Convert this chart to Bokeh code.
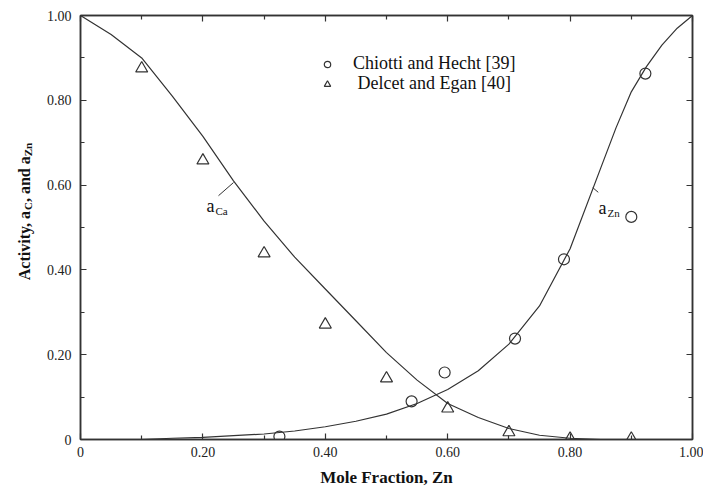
from math import pi
from bokeh.plotting import figure
from bokeh.layouts import row
from bokeh.models import (Range1d, FixedTicker, LinearAxis, Label, Legend,
                          LegendItem)
from bokeh.core.properties import value
from bokeh.embed import file_html
from bokeh.resources import INLINE

# ---------------- data ----------------
tick_values = [0, 0.2, 0.4, 0.6, 0.8, 1.0]
tick_labels = ["0", "0.20", "0.40", "0.60", "0.80", "1.00"]
minor_values = [0.1, 0.3, 0.5, 0.7, 0.9]

chiotti_x = [0.325, 0.541, 0.595, 0.71, 0.79, 0.90, 0.923]
chiotti_y = [0.007, 0.090, 0.158, 0.238, 0.425, 0.525, 0.863]

delcet_x = [0.1, 0.2, 0.3, 0.4, 0.5, 0.6, 0.7, 0.8, 0.9]
delcet_y = [0.875, 0.658, 0.439, 0.271, 0.144, 0.073, 0.017, 0.002, 0.002]

ca_x = [0, 0.05, 0.1, 0.15, 0.2, 0.25, 0.3, 0.35, 0.4, 0.45, 0.5, 0.55,
        0.6, 0.65, 0.7, 0.75, 0.8, 0.85]
ca_y = [1.0, 0.955, 0.90, 0.81, 0.715, 0.61, 0.515, 0.43, 0.355, 0.28, 0.205,
        0.14, 0.085, 0.052, 0.026, 0.01, 0.003, 0.0]

zn_x = [0.1, 0.15, 0.2, 0.25, 0.3, 0.35, 0.4, 0.45, 0.5, 0.55, 0.6, 0.65,
        0.7, 0.75, 0.8, 0.85, 0.875, 0.9, 0.925, 0.95, 0.975, 1.0]
zn_y = [0.0, 0.003, 0.005, 0.009, 0.013, 0.02, 0.03, 0.043, 0.06, 0.085,
        0.118, 0.162, 0.225, 0.315, 0.45, 0.64, 0.735, 0.82, 0.88, 0.93,
        0.97, 1.0]

ca_pointer_x = [0.2255, 0.25]
ca_pointer_y = [0.575, 0.606]
zn_pointer_x = [0.837, 0.846]
zn_pointer_y = [0.594, 0.583]

legend_labels = ["Chiotti and Hecht [39]", " Delcet and Egan [40]"]

# y axis title pieces: (text, subscript?)
ylabel_parts = [("Activity, a", False), ("C", True),
                (", and a", False), ("Zn", True)]

# ---------------- layout ----------------
W, H = 703, 489
LW = 40                        # width of the strip holding the y title
L, R, T, B = 80, 692, 15, 439  # frame in page pixels
INK = "#333333"
TXT = "#111111"
SERIF = "Liberation Serif"

# advance widths (em) of Liberation Serif Bold, for laying out the pieces
BOLD_EM = {"A": .722, "c": .444, "t": .333, "i": .278, "v": .5, "y": .5,
           ",": .25, " ": .25, "a": .5, "n": .556, "d": .556, "C": .722,
           "Z": .667}
MAIN_PX, SUB_PX = 16, 11


def text_w(s, px):
    return sum(BOLD_EM.get(ch, .5) for ch in s) * px


def px2x(px):
    return (px - L) / (R - L)


def py2y(py):
    return (B - py) / (B - T)


yr = Range1d(0, 1)

# ---- strip with the rotated y-axis title (frame aligned with the chart) ----
lf = figure(width=LW, height=H, output_backend="svg", toolbar_location=None,
            title=None, x_range=Range1d(0, LW), y_range=yr,
            x_axis_location=None, y_axis_location=None,
            min_border_left=0, min_border_right=0,
            min_border_top=T, min_border_bottom=H - B)
lf.outline_line_color = None
lf.xgrid.visible = False
lf.ygrid.visible = False
lf.background_fill_color = "white"
lf.border_fill_color = "white"

total = sum(text_w(t, SUB_PX if s else MAIN_PX) for t, s in ylabel_parts)
start = 211 + total / 2          # page y of the first letter (reads upward)
for txt, sub in ylabel_parts:
    size = SUB_PX if sub else MAIN_PX
    lf.text(x=[27 if sub else 24], y=[py2y(start)], text=[txt], angle=pi / 2,
            text_font=value(SERIF), text_font_size=value(f"{size}px"),
            text_font_style="bold", text_color=TXT,
            text_align="left", text_baseline="alphabetic")
    start -= text_w(txt, size)

# ---- main chart ----
p = figure(width=W - LW, height=H, output_backend="svg", toolbar_location=None,
           title=None, x_range=Range1d(0, 1), y_range=yr,
           min_border_left=L - LW, min_border_right=W - R,
           min_border_top=T, min_border_bottom=H - B)
p.background_fill_color = "white"
p.border_fill_color = "white"
p.outline_line_color = INK
p.outline_line_width = 1.5
p.xgrid.visible = False
p.ygrid.visible = False

ticker = FixedTicker(ticks=tick_values, minor_ticks=minor_values)
overrides = {v: s for v, s in zip(tick_values, tick_labels)}


def style_axis(ax, show_labels):
    ax.ticker = ticker
    ax.axis_line_color = INK
    ax.axis_line_width = 1.5
    ax.major_tick_in = 6
    ax.major_tick_out = 0
    ax.minor_tick_in = 4
    ax.minor_tick_out = 0
    ax.major_tick_line_color = INK
    ax.minor_tick_line_color = INK
    ax.major_tick_line_width = 1.2
    ax.minor_tick_line_width = 1.2
    if show_labels:
        ax.major_label_overrides = overrides
        ax.major_label_text_font = SERIF
        ax.major_label_text_font_size = "14px"
        ax.major_label_text_color = "#222222"
    else:
        ax.major_label_text_color = None
        ax.major_label_text_font_size = "1px"
        ax.major_label_standoff = 0


style_axis(p.xaxis[0], True)
style_axis(p.yaxis[0], True)
p.xaxis[0].major_label_standoff = 7
p.yaxis[0].major_label_standoff = 9
p.xaxis[0].axis_label = "Mole Fraction, Zn"
p.xaxis[0].axis_label_text_font = SERIF
p.xaxis[0].axis_label_text_font_style = "bold"
p.xaxis[0].axis_label_text_font_size = "17px"
p.xaxis[0].axis_label_text_color = TXT
p.xaxis[0].axis_label_standoff = 8

top_ax = LinearAxis()
right_ax = LinearAxis()
style_axis(top_ax, False)
style_axis(right_ax, False)
p.add_layout(top_ax, "above")
p.add_layout(right_ax, "right")

# curves
p.line(ca_x, ca_y, line_color=INK, line_width=1.2)
p.line(zn_x, zn_y, line_color=INK, line_width=1.2)

# data points
r_c = p.scatter(chiotti_x, chiotti_y, marker="circle", size=11,
                fill_color=None, line_color=INK, line_width=1.2)
r_t = p.scatter(delcet_x, delcet_y, marker="triangle", size=12,
                fill_color=None, line_color=INK, line_width=1.2)

# pointer lines for the curve labels
p.line(ca_pointer_x, ca_pointer_y, line_color=INK, line_width=1)
p.line(zn_pointer_x, zn_pointer_y, line_color=INK, line_width=1)


def lab(text, px, py, size):
    p.add_layout(Label(x=px2x(px), y=py2y(py), text=text,
                       text_font=SERIF, text_font_size=size,
                       text_color=TXT, text_align="left",
                       text_baseline="alphabetic"))


# curve labels
lab("a", 206, 205, "18px")
lab("Ca", 215, 210, "11px")
lab("a", 598, 207, "18px")
lab("Zn", 607, 212, "11px")


# legend: one entry per row so that each row can be placed exactly
def legend_row(label, renderer, offset_from_bottom):
    lg = Legend(items=[LegendItem(label=label, renderers=[renderer])],
                location=(237, offset_from_bottom), orientation="vertical",
                border_line_color=None, background_fill_alpha=0,
                padding=0, margin=0, spacing=0,
                glyph_width=20, glyph_height=16, label_height=16,
                label_standoff=16,
                label_text_font=SERIF, label_text_font_size="18px",
                label_text_color=TXT)
    p.add_layout(lg, "center")


legend_row(legend_labels[0], r_c, 365)
legend_row(legend_labels[1], r_t, 345)

layout = row(lf, p, spacing=0)
open("out.html", "w").write(file_html(layout, INLINE))
